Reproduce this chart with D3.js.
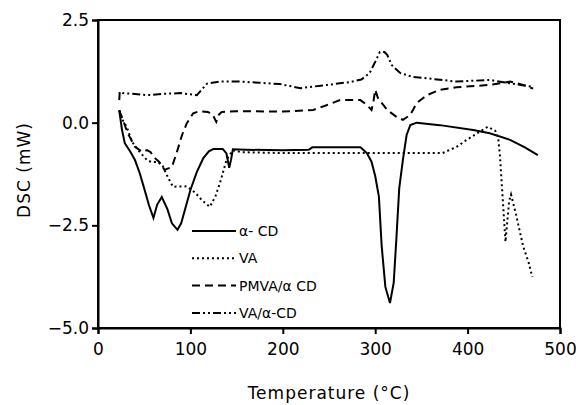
<!DOCTYPE html>
<html>
<head>
<meta charset="utf-8">
<script src="https://cdn.jsdelivr.net/npm/d3@7"></script>
<style>
  body { margin: 0; background: #fff; }
  text { font-family: "DejaVu Sans", sans-serif; fill: #000; }
</style>
</head>
<body>
<div id="chart"></div>
<script>
// DSC curves, [temperature °C, heat flow mW]
const alphaCD = [[23,0.3],[26,-0.18],[29,-0.5],[35,-0.71],[40,-0.91],[45,-1.22],[50,-1.6],[55,-2.0],[60,-2.32],[64,-2.0],[69,-1.81],[75,-2.1],[80,-2.45],[86,-2.61],[90,-2.45],[95,-2.05],[100,-1.64],[107,-1.2],[114,-0.86],[120,-0.7],[125,-0.64],[135,-0.64],[139,-0.75],[142,-1.1],[144,-0.9],[146,-0.65],[160,-0.66],[200,-0.67],[228,-0.66],[232,-0.6],[260,-0.6],[284,-0.6],[291,-0.74],[296,-0.95],[300,-1.3],[304,-1.8],[307,-3.0],[311,-4.0],[316,-4.39],[320,-3.9],[323,-2.8],[326,-1.6],[330,-0.9],[334,-0.3],[338,-0.06],[345,0.0],[370,-0.06],[406,-0.18],[424,-0.26],[446,-0.42],[462,-0.6],[476,-0.79]];
const va = [[23,0.3],[27,0.05],[31,-0.1],[37,-0.47],[45,-0.71],[53,-0.91],[58,-0.96],[65,-0.96],[70,-1.05],[75,-1.3],[81,-1.56],[96,-1.55],[105,-1.7],[113,-1.9],[121,-2.05],[127,-1.8],[132,-1.47],[139,-0.91],[146,-0.67],[155,-0.72],[200,-0.74],[300,-0.74],[373,-0.74],[388,-0.59],[399,-0.42],[413,-0.22],[422,-0.1],[430,-0.2],[433,-0.35],[435,-0.8],[437,-1.5],[439,-2.2],[441,-2.9],[443,-2.4],[445,-1.9],[447,-1.75],[452,-2.2],[460,-3.0],[466,-3.4],[470,-3.76]];
const pmvaCD = [[23,0.3],[27,0.07],[32,-0.25],[40,-0.59],[48,-0.71],[53,-0.67],[57,-0.72],[60,-0.83],[66,-0.95],[72,-1.15],[80,-1.08],[86,-0.67],[91,-0.3],[96,-0.02],[103,0.23],[110,0.28],[119,0.26],[124,0.2],[128,0.02],[131,0.2],[134,0.26],[150,0.28],[200,0.27],[233,0.31],[248,0.43],[262,0.55],[284,0.55],[291,0.43],[296,0.31],[298,0.5],[300,0.8],[303,0.6],[313,0.31],[323,0.14],[330,0.07],[338,0.19],[345,0.48],[356,0.67],[370,0.8],[388,0.86],[424,0.92],[446,1.0],[460,0.92],[471,0.83]];
const vaCD = [[23,0.55],[23.5,0.75],[27,0.72],[40,0.7],[53,0.67],[70,0.7],[89,0.72],[100,0.69],[107,0.67],[112,0.8],[118,0.95],[132,1.0],[154,1.0],[197,0.94],[219,0.84],[248,0.92],[273,0.99],[285,1.05],[294,1.21],[300,1.48],[305,1.72],[310,1.72],[313,1.65],[318,1.4],[327,1.21],[341,1.11],[352,1.09],[388,1.0],[424,1.04],[446,0.96],[471,0.87]];

const seriesNames = ["α- CD", "VA", "PMVA/α CD", "VA/α-CD"];
const xTicks = [0, 100, 200, 300, 400, 500];
const yTicks = [2.5, 0, -2.5, -5];

const width = 576, height = 405;
const margin = {top: 20, right: 16, bottom: 77, left: 98};

const svg = d3.select("#chart").append("svg")
    .attr("width", width)
    .attr("height", height);

const x = d3.scaleLinear().domain([0, 500]).range([margin.left, width - margin.right]);
const y = d3.scaleLinear().domain([-5, 2.5]).range([height - margin.bottom, margin.top]);

// plot frame
svg.append("rect")
    .attr("x", x(0)).attr("y", y(2.5))
    .attr("width", x(500) - x(0)).attr("height", y(-5) - y(2.5))
    .attr("fill", "none").attr("stroke", "#000").attr("stroke-width", 2);

const xAxis = svg.append("g")
    .attr("transform", `translate(0,${y(-5)})`)
    .call(d3.axisBottom(x).tickValues(xTicks).tickSize(6).tickPadding(9).tickFormat(d3.format("d")));
const yAxis = svg.append("g")
    .attr("transform", `translate(${x(0)},0)`)
    .call(d3.axisLeft(y).tickValues(yTicks).tickSize(6).tickPadding(3).tickFormat(d3.format(".1f")));

[xAxis, yAxis].forEach(g => {
    g.select(".domain").attr("stroke-width", 2);
    g.selectAll(".tick line").attr("stroke-width", 2);
    g.selectAll(".tick text").attr("font-size", 17).attr("font-family", "DejaVu Sans");
});

// axis titles
svg.append("text")
    .attr("x", (x(0) + x(500)) / 2).attr("y", 399)
    .attr("text-anchor", "middle").attr("font-size", 17)
    .style("letter-spacing", "1px")
    .text("Temperature (°C)");
svg.append("text")
    .attr("transform", `translate(30,${(y(2.5) + y(-5)) / 2 - 4}) rotate(-90)`)
    .attr("text-anchor", "middle").attr("font-size", 17)
    .style("letter-spacing", "1px")
    .text("DSC (mW)");

const line = d3.line().x(d => x(d[0])).y(d => y(d[1]));

const styles = [
    {data: alphaCD, dash: null, w: 2},
    {data: va, dash: "2,3", w: 2},
    {data: pmvaCD, dash: "8,5", w: 2},
    {data: vaCD, dash: "8,3,2,3,2,3", w: 2}
];

styles.forEach(s => {
    svg.append("path")
        .datum(s.data)
        .attr("d", line)
        .attr("fill", "none")
        .attr("stroke", "#000")
        .attr("stroke-width", s.w)
        .attr("stroke-dasharray", s.dash);
});

// legend
const legend = svg.append("g").attr("transform", "translate(192,231)");
seriesNames.forEach((name, i) => {
    const row = legend.append("g").attr("transform", `translate(0,${i * 27.3})`);
    row.append("line")
        .attr("x1", 0).attr("x2", 44).attr("y1", 0).attr("y2", 0)
        .attr("stroke", "#000").attr("stroke-width", 2)
        .attr("stroke-dasharray", styles[i].dash);
    row.append("text")
        .attr("x", 47).attr("y", 5)
        .attr("font-size", 14)
        .text(name);
});
</script>
</body>
</html>
